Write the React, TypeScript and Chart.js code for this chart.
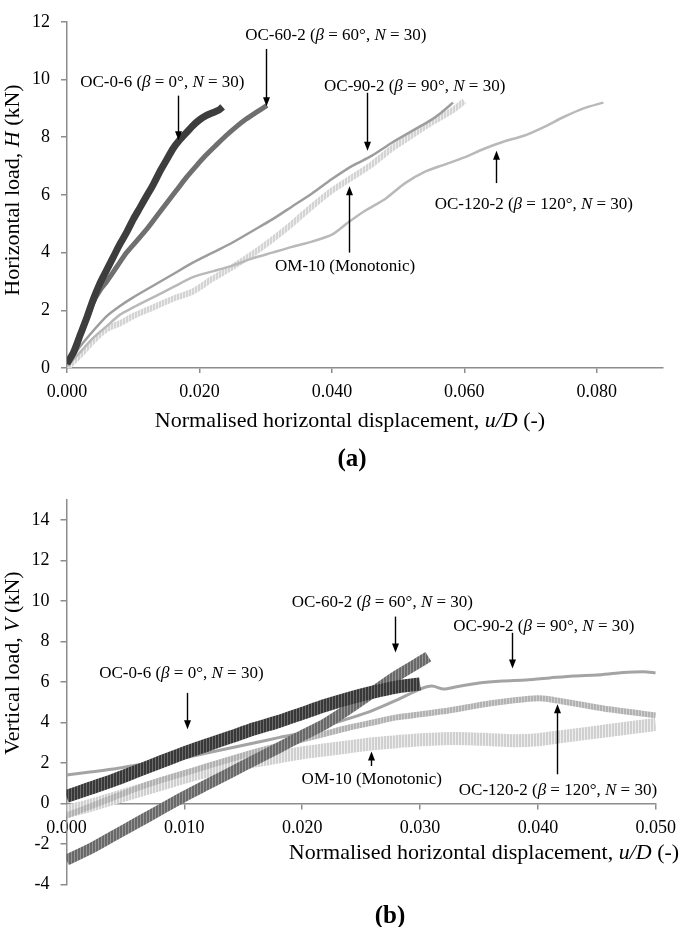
import React, { useEffect, useRef } from 'react';
import { Chart, registerables } from 'chart.js';

Chart.register(...registerables);

if (typeof document !== 'undefined') {
  document.body.style.margin = '0';
}

type Pt = [number, number];
type Run = [string, boolean];

// ---------------- (a) Horizontal load H vs u/D ----------------
const A_X_TICKS = [0, 0.02, 0.04, 0.06, 0.08];
const A_Y_TICKS = [0, 2, 4, 6, 8, 10, 12];

const A_OC06: Pt[] = [
  [0, 0.15], [0.001, 0.55], [0.002, 1.15], [0.003, 1.75], [0.004, 2.4], [0.005, 2.95],
  [0.006, 3.4], [0.007, 3.85], [0.008, 4.3], [0.009, 4.7], [0.010, 5.15], [0.011, 5.55],
  [0.012, 5.95], [0.013, 6.35], [0.014, 6.8], [0.015, 7.2], [0.016, 7.6], [0.017, 7.9],
  [0.018, 8.15], [0.019, 8.4], [0.020, 8.6], [0.021, 8.75], [0.022, 8.85], [0.023, 8.95], [0.0235, 9.05],
];
const A_OC602: Pt[] = [
  [0, 0.15], [0.001, 0.55], [0.002, 1.15], [0.003, 1.7], [0.004, 2.3], [0.005, 2.7],
  [0.006, 3.0], [0.0075, 3.5], [0.009, 4.0], [0.0105, 4.4], [0.012, 4.8], [0.0135, 5.25],
  [0.015, 5.7], [0.0165, 6.15], [0.018, 6.6], [0.0195, 7.0], [0.021, 7.38], [0.0225, 7.72],
  [0.024, 8.05], [0.0255, 8.35], [0.027, 8.62], [0.0285, 8.85], [0.0302, 9.1],
];
const A_OC902: Pt[] = [
  [0, 0.1], [0.002, 0.75], [0.004, 1.3], [0.006, 1.8], [0.008, 2.15], [0.010, 2.45],
  [0.013, 2.85], [0.016, 3.25], [0.019, 3.65], [0.022, 4.0], [0.025, 4.35], [0.028, 4.75],
  [0.031, 5.15], [0.034, 5.6], [0.037, 6.05], [0.040, 6.55], [0.043, 7.0], [0.046, 7.35],
  [0.049, 7.8], [0.052, 8.2], [0.055, 8.6], [0.0565, 8.85], [0.0583, 9.2],
];
const A_OC1202: Pt[] = [
  [0, 0.05], [0.002, 0.55], [0.004, 1.05], [0.006, 1.45], [0.008, 1.85], [0.010, 2.1],
  [0.013, 2.45], [0.016, 2.8], [0.019, 3.15], [0.022, 3.35], [0.025, 3.55], [0.028, 3.8],
  [0.031, 4.0], [0.034, 4.2], [0.037, 4.38], [0.040, 4.62], [0.0425, 5.05], [0.045, 5.45],
  [0.048, 5.85], [0.051, 6.4], [0.054, 6.8], [0.057, 7.05], [0.060, 7.3], [0.063, 7.6],
  [0.066, 7.85], [0.069, 8.05], [0.072, 8.35], [0.075, 8.7], [0.078, 9.0], [0.081, 9.2],
];
const A_OM10: Pt[] = [
  [0, 0], [0.002, 0.45], [0.004, 0.95], [0.006, 1.35], [0.008, 1.55], [0.010, 1.8],
  [0.013, 2.1], [0.016, 2.4], [0.019, 2.65], [0.022, 3.1], [0.025, 3.5], [0.028, 3.95],
  [0.031, 4.45], [0.034, 5.0], [0.037, 5.6], [0.040, 6.15], [0.043, 6.6], [0.046, 7.05],
  [0.049, 7.6], [0.052, 8.05], [0.055, 8.5], [0.058, 8.9], [0.060, 9.25],
];

// ---------------- (b) Vertical load V vs u/D ----------------
const B_X_TICKS = [0, 0.01, 0.02, 0.03, 0.04, 0.05];
const B_Y_TICKS = [-4, -2, 0, 2, 4, 6, 8, 10, 12, 14];

const B_OC06: Pt[] = [
  [0, 0.35], [0.002, 0.75], [0.004, 1.15], [0.006, 1.6], [0.008, 2.05], [0.010, 2.5],
  [0.012, 2.9], [0.014, 3.3], [0.016, 3.7], [0.018, 4.05], [0.020, 4.45], [0.022, 4.85],
  [0.024, 5.2], [0.026, 5.5], [0.028, 5.75], [0.030, 5.9],
];
const B_OC602: Pt[] = [
  [0, -2.8], [0.002, -2.25], [0.004, -1.6], [0.006, -0.95], [0.008, -0.3], [0.010, 0.35],
  [0.012, 0.95], [0.014, 1.55], [0.016, 2.15], [0.018, 2.75], [0.020, 3.35], [0.022, 3.95],
  [0.024, 4.7], [0.026, 5.5], [0.028, 6.3], [0.030, 7.0], [0.0307, 7.25],
];
const B_OC902: Pt[] = [
  [0, 1.4], [0.002, 1.55], [0.004, 1.7], [0.006, 1.9], [0.008, 2.05], [0.010, 2.25],
  [0.012, 2.5], [0.014, 2.75], [0.016, 3.0], [0.018, 3.25], [0.020, 3.5], [0.022, 3.85],
  [0.024, 4.2], [0.026, 4.6], [0.028, 5.1], [0.030, 5.65], [0.031, 5.8], [0.032, 5.65],
  [0.033, 5.75], [0.035, 5.95], [0.037, 6.05], [0.039, 6.1], [0.041, 6.2], [0.043, 6.3],
  [0.045, 6.35], [0.047, 6.45], [0.049, 6.5], [0.050, 6.45],
];
const B_OC1202: Pt[] = [
  [0, -0.6], [0.002, -0.15], [0.004, 0.3], [0.006, 0.75], [0.008, 1.15], [0.010, 1.5],
  [0.012, 1.85], [0.014, 2.2], [0.016, 2.55], [0.018, 2.85], [0.020, 3.15], [0.022, 3.45],
  [0.024, 3.75], [0.026, 4.0], [0.028, 4.25], [0.030, 4.4], [0.032, 4.55], [0.034, 4.75],
  [0.036, 4.95], [0.038, 5.1], [0.040, 5.2], [0.041, 5.15], [0.042, 5.05], [0.044, 4.85],
  [0.046, 4.65], [0.048, 4.5], [0.050, 4.35],
];
const B_OM10: Pt[] = [
  [0, -0.4], [0.002, -0.1], [0.004, 0.25], [0.006, 0.6], [0.008, 0.95], [0.010, 1.3],
  [0.012, 1.6], [0.014, 1.85], [0.016, 2.1], [0.018, 2.3], [0.020, 2.5], [0.022, 2.65],
  [0.024, 2.8], [0.026, 2.95], [0.028, 3.05], [0.030, 3.15], [0.032, 3.2], [0.034, 3.2],
  [0.036, 3.15], [0.038, 3.1], [0.040, 3.15], [0.042, 3.3], [0.044, 3.45], [0.046, 3.6],
  [0.048, 3.75], [0.050, 3.9],
];

const SERIES_NAMES = ['OC-0-6', 'OC-60-2', 'OC-90-2', 'OC-120-2', 'OM-10'];

// ---------------- annotation texts ----------------
type Note = { runs: Run[]; x: number; y: number; ax: number; ay1: number; ay2: number };

const A_NOTES: Note[] = [
  { runs: [['OC-0-6 (', false], ['β', true], [' = 0°, ', false], ['N', true], [' = 30)', false]], x: 0.0144, y: 9.9, ax: 0.0167, ay1: 9.44, ay2: 7.89 },
  { runs: [['OC-60-2 (', false], ['β', true], [' = 60°, ', false], ['N', true], [' = 30)', false]], x: 0.0406, y: 11.54, ax: 0.030, ay1: 11.06, ay2: 9.07 },
  { runs: [['OC-90-2 (', false], ['β', true], [' = 90°, ', false], ['N', true], [' = 30)', false]], x: 0.0525, y: 9.77, ax: 0.0453, ay1: 9.54, ay2: 7.53 },
  { runs: [['OC-120-2 (', false], ['β', true], [' = 120°, ', false], ['N', true], [' = 30)', false]], x: 0.0705, y: 5.68, ax: 0.0648, ay1: 6.41, ay2: 7.53 },
  { runs: [['OM-10 (Monotonic)', false]], x: 0.042, y: 3.5, ax: 0.0426, ay1: 4.0, ay2: 6.3 },
];
const B_NOTES: Note[] = [
  { runs: [['OC-60-2 (', false], ['β', true], [' = 60°, ', false], ['N', true], [' = 30)', false]], x: 0.0268, y: 9.92, ax: 0.0279, ay1: 9.23, ay2: 7.46 },
  { runs: [['OC-90-2 (', false], ['β', true], [' = 90°, ', false], ['N', true], [' = 30)', false]], x: 0.0405, y: 8.75, ax: 0.0378, ay1: 8.43, ay2: 6.66 },
  { runs: [['OC-0-6 (', false], ['β', true], [' = 0°, ', false], ['N', true], [' = 30)', false]], x: 0.00975, y: 6.42, ax: 0.01025, ay1: 5.46, ay2: 3.66 },
  { runs: [['OM-10 (Monotonic)', false]], x: 0.0259, y: 1.16, ax: 0.0258, ay1: 1.85, ay2: 2.57 },
  { runs: [['OC-120-2 (', false], ['β', true], [' = 120°, ', false], ['N', true], [' = 30)', false]], x: 0.0417, y: 0.64, ax: 0.04165, ay1: 1.44, ay2: 4.9 },
];

const A_XTITLE: Run[] = [['Normalised horizontal displacement, ', false], ['u/D', true], [' (-)', false]];
const A_YTITLE: Run[] = [['Horizontal load, ', false], ['H', true], [' (kN)', false]];
const B_XTITLE: Run[] = A_XTITLE;
const B_YTITLE: Run[] = [['Vertical load, ', false], ['V', true], [' (kN)', false]];

// ---------------- styling ----------------
const FONT = '"Liberation Serif", "Times New Roman", Times, serif';
const AXIS = '#8c8c8c';
const TICK_SIZE = 18;
const NOTE_SIZE = 17;
const TITLE_SIZE = 22;

function drawRuns(ctx: CanvasRenderingContext2D, runs: Run[], cx: number, cy: number, size: number, bold = false) {
  const fontFor = (it: boolean) => `${it ? 'italic ' : ''}${bold ? 'bold ' : ''}${size}px ${FONT}`;
  const widths = runs.map(([t, it]) => {
    ctx.font = fontFor(it);
    return ctx.measureText(t).width;
  });
  const total = widths.reduce((a, b) => a + b, 0);
  let x = cx - total / 2;
  ctx.textBaseline = 'middle';
  ctx.textAlign = 'left';
  ctx.fillStyle = '#000';
  runs.forEach(([t, it], i) => {
    ctx.font = fontFor(it);
    ctx.fillText(t, x, cy);
    x += widths[i];
  });
}

function drawArrow(ctx: CanvasRenderingContext2D, x: number, y1: number, y2: number) {
  const dir = Math.sign(y2 - y1);
  ctx.strokeStyle = '#000';
  ctx.fillStyle = '#000';
  ctx.lineWidth = 1.4;
  ctx.beginPath();
  ctx.moveTo(x, y1);
  ctx.lineTo(x, y2 - dir * 6);
  ctx.stroke();
  ctx.beginPath();
  ctx.moveTo(x, y2);
  ctx.lineTo(x - 3.5, y2 - dir * 9);
  ctx.lineTo(x + 3.5, y2 - dir * 9);
  ctx.closePath();
  ctx.fill();
}

type Deco = {
  notes: Note[];
  xTitle: Run[]; xTitlePos: [number, number];
  yTitle: Run[]; yTitlePos: [number, number];
  tag: string; tagPos: [number, number];
};

function notesPlugin(d: Deco) {
  return {
    id: 'notes',
    afterDraw(chart: any) {
      const ctx: CanvasRenderingContext2D = chart.ctx;
      const xs = chart.scales.x;
      const ys = chart.scales.y;
      ctx.save();
      d.notes.forEach((n) => {
        drawRuns(ctx, n.runs, xs.getPixelForValue(n.x), ys.getPixelForValue(n.y), NOTE_SIZE);
        drawArrow(ctx, Math.round(xs.getPixelForValue(n.ax)) + 0.5, ys.getPixelForValue(n.ay1), ys.getPixelForValue(n.ay2));
      });
      drawRuns(ctx, d.xTitle, d.xTitlePos[0], d.xTitlePos[1], TITLE_SIZE);
      ctx.save();
      ctx.translate(d.yTitlePos[0], d.yTitlePos[1]);
      ctx.rotate(-Math.PI / 2);
      drawRuns(ctx, d.yTitle, 0, 0, TITLE_SIZE);
      ctx.restore();
      drawRuns(ctx, [[d.tag, false]], d.tagPos[0], d.tagPos[1], 25, true);
      ctx.restore();
    },
  };
}

function stripes(main: string, gap: string, w: number, g: number): CanvasPattern | string {
  const c = document.createElement('canvas');
  c.width = w + g;
  c.height = 2;
  const cx = c.getContext('2d');
  if (!cx) return main;
  cx.fillStyle = gap;
  cx.fillRect(0, 0, w + g, 2);
  cx.fillStyle = main;
  cx.fillRect(0, 0, w, 2);
  return cx.createPattern(c, 'repeat') || main;
}

const toXY = (arr: Pt[]) => arr.map(([x, y]) => ({ x, y }));

function axisCommon(tickList: number[], fmt: (v: number) => string, padding: number, tickLength: number) {
  return {
    type: 'linear' as const,
    afterBuildTicks: (s: any) => {
      s.ticks = tickList.map((v) => ({ value: v }));
    },
    grid: { drawOnChartArea: false, drawTicks: true, tickLength, color: AXIS, lineWidth: 1.5 },
    border: { display: true, color: AXIS, width: 1.5 },
    ticks: {
      color: '#000',
      font: { family: FONT, size: TICK_SIZE },
      padding,
      autoSkip: false,
      maxRotation: 0,
      callback: (v: any) => fmt(Number(v)),
    },
  };
}

function ChartA() {
  const ref = useRef<HTMLCanvasElement | null>(null);
  useEffect(() => {
    if (!ref.current) return;
    const series = [A_OC06, A_OC602, A_OC902, A_OC1202, A_OM10];
    const colors: any[] = ['#3d3d3d', '#6f6f6f', '#9d9d9d', '#b9b9b9', stripes('#d4d4d4', '#ededed', 2, 1)];
    const widths = [7, 5, 2.5, 2.5, 6];
    const chart = new Chart(ref.current, {
      type: 'scatter',
      data: {
        datasets: series.map((s, i) => ({
          label: SERIES_NAMES[i],
          data: toXY(s),
          showLine: true,
          borderColor: colors[i],
          backgroundColor: colors[i],
          borderWidth: widths[i],
          pointRadius: 0,
          tension: 0.25,
          borderCapStyle: 'butt' as const,
        })),
      },
      options: {
        animation: false,
        responsive: false,
        events: [],
        layout: { autoPadding: false, padding: { left: 0, top: 11.5, right: 22, bottom: 0 } },
        plugins: { legend: { display: false }, tooltip: { enabled: false }, title: { display: false } },
        scales: {
          x: {
            ...axisCommon(A_X_TICKS, (v) => v.toFixed(3), 8, 5),
            position: 'bottom',
            min: 0,
            max: 0.09,
            afterFit: (s: any) => { s.height = 110; },
          },
          y: {
            ...axisCommon(A_Y_TICKS, (v) => String(Math.round(v)), 11, 6),
            position: 'left',
            min: 0,
            max: 12,
            afterFit: (s: any) => { s.width = 67; },
          },
        },
      } as any,
      plugins: [notesPlugin({
        notes: A_NOTES,
        xTitle: A_XTITLE, xTitlePos: [350, 421],
        yTitle: A_YTITLE, yTitlePos: [13, 190],
        tag: '(a)', tagPos: [352, 460],
      })],
    });
    return () => chart.destroy();
  }, []);
  return <canvas ref={ref} width={685} height={478} style={{ display: 'block' }} />;
}

function ChartB() {
  const ref = useRef<HTMLCanvasElement | null>(null);
  useEffect(() => {
    if (!ref.current) return;
    const series = [B_OC06, B_OC602, B_OC902, B_OC1202, B_OM10];
    const colors: any[] = [
      stripes('#383838', '#6c6c6c', 2, 1),
      stripes('#696969', '#959595', 2, 1),
      '#a4a4a4',
      stripes('#b2b2b2', '#d0d0d0', 2, 1),
      stripes('#d0d0d0', '#eeeeee', 2, 1),
    ];
    const widths = [13, 11, 3, 6, 13];
    const chart = new Chart(ref.current, {
      type: 'scatter',
      data: {
        datasets: series.map((s, i) => ({
          label: SERIES_NAMES[i],
          data: toXY(s),
          showLine: true,
          borderColor: colors[i],
          backgroundColor: colors[i],
          borderWidth: widths[i],
          pointRadius: 0,
          tension: 0.25,
          borderCapStyle: 'butt' as const,
        })),
      },
      options: {
        animation: false,
        responsive: false,
        events: [],
        layout: { autoPadding: false, padding: { left: 0, top: 13.7, right: 21.7, bottom: 42.6 } },
        plugins: { legend: { display: false }, tooltip: { enabled: false }, title: { display: false } },
        scales: {
          x: {
            ...axisCommon(B_X_TICKS, (v) => v.toFixed(3), 9, 5),
            position: { y: 0 },
            min: 0,
            max: 0.05,
          },
          y: {
            ...axisCommon(B_Y_TICKS, (v) => String(Math.round(v)), 11, 6),
            position: 'left',
            min: -4,
            max: 15,
            afterFit: (s: any) => { s.width = 66.5; },
          },
        },
      } as any,
      plugins: [notesPlugin({
        notes: B_NOTES,
        xTitle: B_XTITLE, xTitlePos: [484, 375],
        yTitle: B_YTITLE, yTitlePos: [13, 185],
        tag: '(b)', tagPos: [390, 439],
      })],
    });
    return () => chart.destroy();
  }, []);
  return <canvas ref={ref} width={685} height={449} style={{ display: 'block' }} />;
}

export default function App() {
  return (
    <div style={{ width: 685, height: 927, background: '#fff' }}>
      <ChartA />
      <ChartB />
    </div>
  );
}
